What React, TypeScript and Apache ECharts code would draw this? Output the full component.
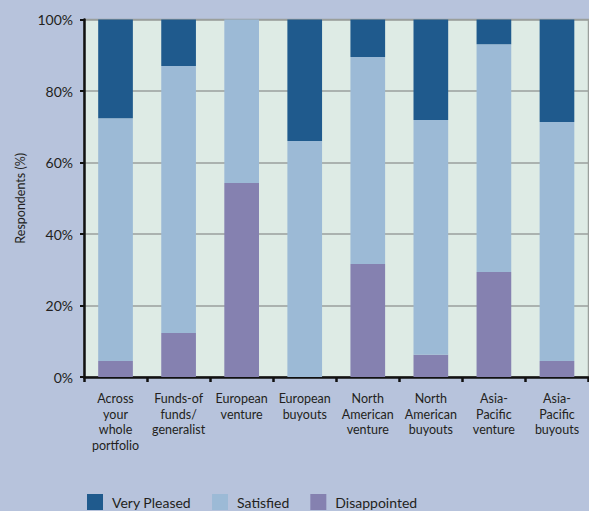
import React, { useEffect, useRef } from "react";
import * as echarts from "echarts";

const categories = [
  "Across\nyour\nwhole\nportfolio",
  "Funds-of\nfunds/\ngeneralist",
  "European\nventure",
  "European\nbuyouts",
  "North\nAmerican\nventure",
  "North\nAmerican\nbuyouts",
  "Asia-\nPacific\nventure",
  "Asia-\nPacific\nbuyouts",
];
const disappointed = [4.5, 12.3, 54.3, 0, 31.6, 6.2, 29.4, 4.5];
const satisfied = [67.9, 74.7, 45.7, 66.0, 57.9, 65.7, 63.7, 66.8];
const veryPleased = [27.6, 13.0, 0, 34.0, 10.5, 28.1, 6.9, 28.7];
const yTicks = [0, 20, 40, 60, 80, 100];

const FONT = "Lato, 'Noto Sans', sans-serif";
const TEXT = "#231f20";

export default function App() {
  const ref = useRef<HTMLDivElement>(null);
  useEffect(() => {
    document.body.style.margin = "0";
    const chart = echarts.init(ref.current!, null, { renderer: "svg" });
    chart.setOption({
      animation: false,
      backgroundColor: "#b7c3dc",
      textStyle: { fontFamily: FONT, color: TEXT },
      legend: {
        data: ["Very Pleased", "Satisfied", "Disappointed"],
        left: 87,
        top: 494,
        padding: 0,
        itemWidth: 16,
        itemHeight: 16,
        itemGap: 21,
        icon: "rect",
        textStyle: { fontSize: 14, color: TEXT, fontFamily: FONT, padding: [0, 0, 0, 4] },
      },
      grid: {
        left: 84,
        right: 0.5,
        top: 19.5,
        bottom: 134,
        show: true,
        backgroundColor: "#deebe5",
        borderColor: "#9a9f9c",
        borderWidth: 1.5,
      },
      xAxis: {
        type: "category",
        data: categories,
        axisLine: { show: true, lineStyle: { color: "#111", width: 2.5 } },
        axisTick: { show: true, length: 5, alignWithLabel: false, lineStyle: { color: "#111", width: 2.5 } },
        axisLabel: { fontSize: 12.5, lineHeight: 15.5, color: TEXT, margin: 14, interval: 0, fontFamily: FONT },
      },
      yAxis: {
        type: "value",
        min: 0,
        max: 100,
        interval: 20,
        name: "Respondents (%)",
        nameLocation: "middle",
        nameGap: 57,
        nameTextStyle: { fontSize: 12.5, color: TEXT, fontFamily: FONT },
        axisLine: { show: true, lineStyle: { color: "#111", width: 2.5 } },
        axisTick: { show: true, length: 4, lineStyle: { color: "#111", width: 2 } },
        axisLabel: {
          fontSize: 14,
          color: TEXT,
          margin: 11,
          fontFamily: FONT,
          formatter: (v: number) => (yTicks.includes(v) ? v + "%" : ""),
        },
        splitLine: { show: true, lineStyle: { color: "#9a9f9c", width: 1.5 } },
      },
      series: [
        {
          name: "Disappointed",
          type: "bar",
          stack: "t",
          data: disappointed,
          barWidth: "55%",
          itemStyle: { color: "#8581b0" },
        },
        {
          name: "Satisfied",
          type: "bar",
          stack: "t",
          data: satisfied,
          barWidth: "55%",
          itemStyle: { color: "#9cbad6" },
        },
        {
          name: "Very Pleased",
          type: "bar",
          stack: "t",
          data: veryPleased,
          barWidth: "55%",
          itemStyle: { color: "#1f5a8d" },
        },
      ],
    });
    return () => chart.dispose();
  }, []);
  return <div ref={ref} style={{ width: 589, height: 511 }} />;
}
